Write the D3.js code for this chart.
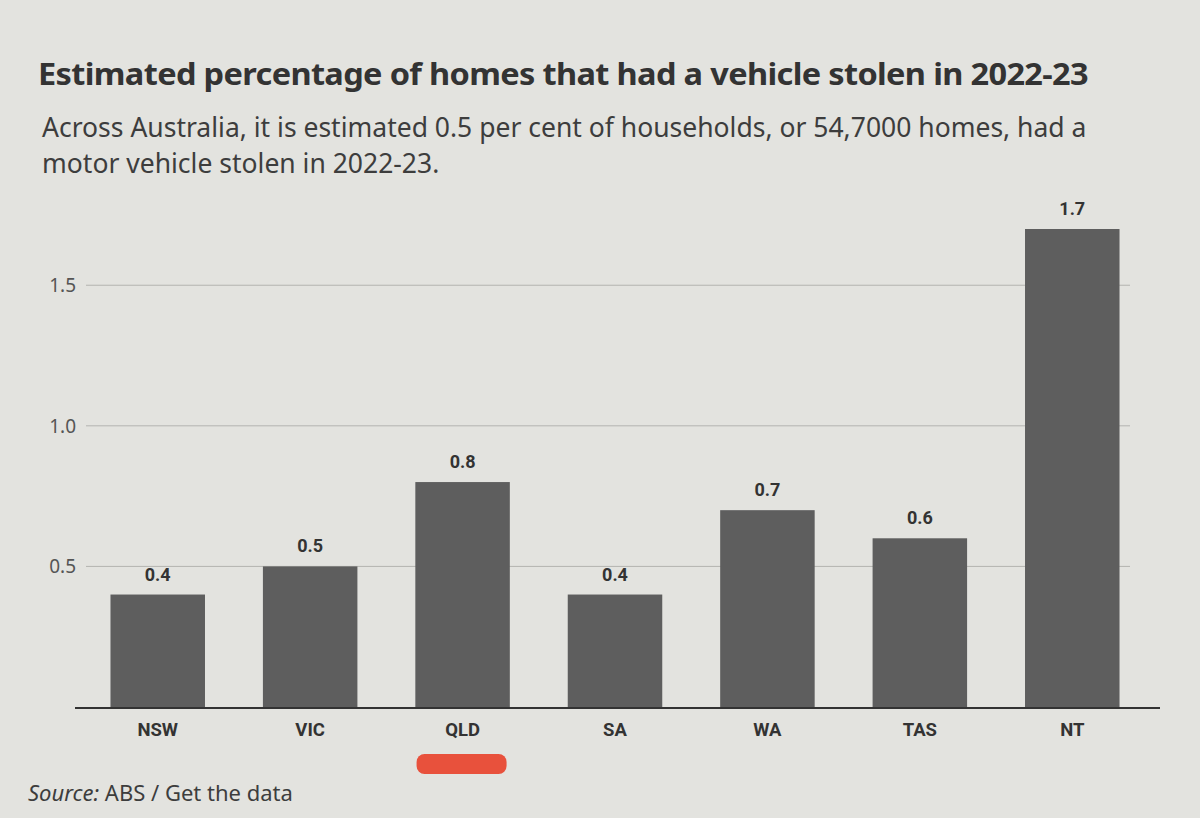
<!DOCTYPE html>
<html><head><meta charset="utf-8">
<script src="https://cdn.jsdelivr.net/npm/d3@7"></script>
<style>body{margin:0;background:#e3e3df;} svg{display:block;}</style>
</head><body>
<svg id="c" width="1200" height="818"></svg>
<script>
const categories = ["NSW","VIC","QLD","SA","WA","TAS","NT"];
const values = [0.4, 0.5, 0.8, 0.4, 0.7, 0.6, 1.7];
const yTicks = [0.5, 1.0, 1.5];
const title = "Estimated percentage of homes that had a vehicle stolen in 2022-23";
const subtitle = ["Across Australia, it is estimated 0.5 per cent of households, or 54,7000 homes, had a", "motor vehicle stolen in 2022-23."];

const svg = d3.select("#c");
svg.append("rect").attr("width",1200).attr("height",818).attr("fill","#e3e3df");

svg.append("text").attr("x",38).attr("y",85).attr("font-family","'Noto Sans', sans-serif")
  .attr("font-weight",700).attr("font-size",30).attr("fill","#333").attr("letter-spacing","-0.6")
  .attr("textLength",1050).attr("lengthAdjust","spacingAndGlyphs").text(title);
subtitle.forEach((s,i)=>svg.append("text").attr("x",42).attr("y",137+i*36)
  .attr("font-family","'Noto Sans', 'Open Sans', sans-serif").attr("font-size",26.5).attr("fill","#3d3d3d").text(s));

const x = d3.scaleBand().domain(categories).range([80,1150]).paddingInner(0.38).paddingOuter(0.2);
const y = d3.scaleLinear().domain([0,1.7]).range([707,229]);

const g = svg.append("g");
g.selectAll(".grid").data(yTicks).join("line")
  .attr("x1",86).attr("x2",1130).attr("y1",d=>y(d)).attr("y2",d=>y(d))
  .attr("stroke","#b4b4b0").attr("stroke-width",1);
g.selectAll(".yl").data(yTicks).join("text")
  .attr("x",76).attr("y",d=>y(d)+7).attr("text-anchor","end")
  .attr("font-family","'Noto Sans', sans-serif").attr("font-size",19).attr("fill","#555")
  .text(d=>d3.format(".1f")(d));

g.selectAll(".bar").data(values).join("rect")
  .attr("x",(d,i)=>x(categories[i])).attr("width",x.bandwidth())
  .attr("y",d=>y(d)).attr("height",d=>y(0)-y(d)).attr("fill","#5e5e5e");

g.selectAll(".vl").data(values).join("text")
  .attr("x",(d,i)=>x(categories[i])+x.bandwidth()/2).attr("y",d=>y(d)-14)
  .attr("text-anchor","middle").attr("font-family","Roboto, 'Noto Sans', sans-serif")
  .attr("font-weight",700).attr("font-size",18).attr("fill","#333")
  .text(d=>d3.format(".1f")(d));

g.append("line").attr("x1",75).attr("x2",1160).attr("y1",y(0)+1).attr("y2",y(0)+1)
  .attr("stroke","#333").attr("stroke-width",2);

g.selectAll(".xl").data(categories).join("text")
  .attr("x",d=>x(d)+x.bandwidth()/2).attr("y",y(0)+29).attr("text-anchor","middle")
  .attr("font-family","Roboto, 'Noto Sans', sans-serif").attr("font-weight",700)
  .attr("font-size",18.5).attr("fill","#333").text(d=>d);

svg.append("rect").attr("x",x("QLD")+x.bandwidth()/2-46).attr("y",754).attr("width",90).attr("height",20)
  .attr("rx",8).attr("fill","#e8402a").attr("opacity",0.9);

const src = svg.append("text").attr("x",28).attr("y",801).attr("font-family","'Noto Sans', sans-serif")
  .attr("font-size",22).attr("fill","#3d3d3d");
src.append("tspan").attr("font-style","italic").text("Source:");
src.append("tspan").text(" ABS / Get the data");
</script>
</body></html>
